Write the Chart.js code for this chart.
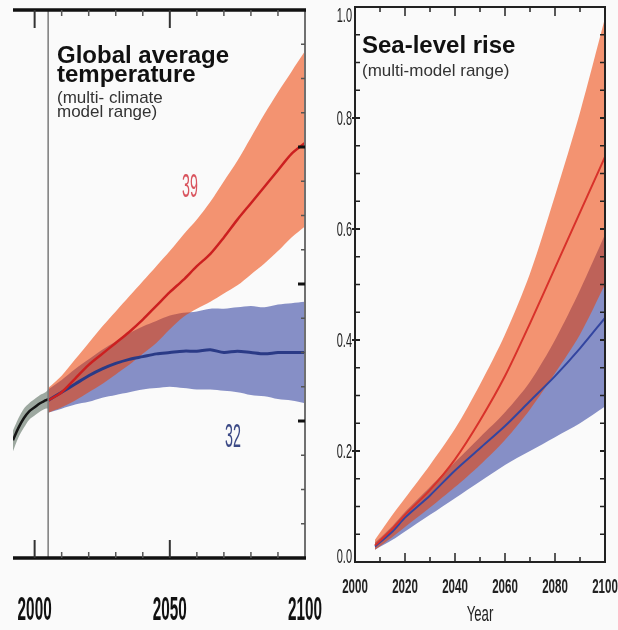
<!DOCTYPE html>
<html>
<head>
<meta charset="utf-8">
<script src="https://cdn.jsdelivr.net/npm/chart.js@4.4.1/dist/chart.umd.min.js"></script>
<style>
  html, body { margin: 0; padding: 0; background: #fafafa; }
  #wrap { position: relative; width: 618px; height: 630px; overflow: hidden; font-family: "Liberation Sans", Arial, sans-serif; }
  #temp-chart { position: absolute; left: 0; top: 0; }
  #sea-chart { position: absolute; left: 322px; top: 0; }
  .title { position: absolute; font-weight: bold; font-size: 24px; color: #111; white-space: nowrap; }
  .sub { position: absolute; font-size: 17px; color: #333; white-space: nowrap; }
  .count { position: absolute; font-size: 34px; line-height: 34px; transform: scaleX(0.42); transform-origin: left top; }
</style>
</head>
<body>
<div id="wrap">
  <canvas id="temp-chart" width="322" height="630"></canvas>
  <canvas id="sea-chart" width="296" height="630"></canvas>

  <div class="title" style="left:57px; top:45px; line-height:19px;">Global average<br>temperature</div>
  <div class="sub" style="left:57px; top:91px; line-height:14px;">(multi- climate<br>model range)</div>
  <div class="count" style="left:182px; top:168px; color:#d9545e;">39</div>
  <div class="count" style="left:225px; top:418px; color:#3c4a86;">32</div>

  <div class="title" style="left:362px; top:33px; line-height:24px;">Sea-level rise</div>
  <div class="sub" style="left:362px; top:62px; line-height:17px;">(multi-model range)</div>
</div>

<script>
// ---- global average temperature ----
const histYears = [1992, 1994, 1996, 1998, 2000, 2002, 2004, 2005];
const histMean  = [0.86, 0.95, 1.02, 1.07, 1.10, 1.13, 1.15, 1.16];
const histHigh  = [0.93, 1.02, 1.09, 1.13, 1.16, 1.19, 1.21, 1.23];
const histLow   = [0.78, 0.88, 0.95, 1.01, 1.04, 1.07, 1.09, 1.09];

const tempYears = [2005, 2010, 2015, 2020, 2025, 2030, 2035, 2040, 2045, 2050,
                   2055, 2060, 2065, 2070, 2075, 2080, 2085, 2090, 2095, 2100];
// "39" runs
const redMean = [1.15, 1.21, 1.31, 1.41, 1.49, 1.57, 1.65, 1.74, 1.84, 1.94,
                 2.03, 2.13, 2.22, 2.34, 2.47, 2.59, 2.71, 2.83, 2.95, 3.03];
const redHigh = [1.24, 1.33, 1.45, 1.57, 1.69, 1.80, 1.91, 2.02, 2.13, 2.24,
                 2.36, 2.47, 2.60, 2.75, 2.90, 3.07, 3.24, 3.40, 3.55, 3.70];
const redLow  = [1.06, 1.10, 1.15, 1.21, 1.27, 1.34, 1.41, 1.49, 1.57, 1.67,
                 1.76, 1.82, 1.87, 1.93, 1.99, 2.07, 2.15, 2.24, 2.34, 2.42];
// "32" runs
const blueMean = [1.15, 1.21, 1.27, 1.33, 1.38, 1.42, 1.45, 1.47, 1.49, 1.50,
                  1.51, 1.51, 1.52, 1.50, 1.51, 1.50, 1.49, 1.50, 1.50, 1.50];
const blueHigh = [1.23, 1.30, 1.38, 1.45, 1.52, 1.58, 1.64, 1.69, 1.73, 1.77,
                  1.79, 1.80, 1.82, 1.82, 1.83, 1.84, 1.83, 1.85, 1.86, 1.87];
const blueLow  = [1.06, 1.09, 1.12, 1.14, 1.17, 1.19, 1.21, 1.23, 1.24, 1.25,
                  1.24, 1.23, 1.23, 1.22, 1.21, 1.19, 1.18, 1.16, 1.15, 1.13];

const tempXTicks = [2000, 2010, 2020, 2030, 2040, 2050, 2060, 2070, 2080, 2090];
const tempXLabels = ['2000', '2050', '2100'];
const tempYTicks = [0.25, 0.5, 0.75, 1, 1.25, 1.5, 1.75, 2, 2.25, 2.5, 2.75, 3, 3.25, 3.5, 3.75];

// ---- sea-level rise (m) ----
const seaYears = [2008, 2015, 2020, 2030, 2040, 2050, 2060, 2070, 2080, 2090, 2100];
const seaRedHigh  = [0.040, 0.085, 0.115, 0.175, 0.240, 0.320, 0.410, 0.520, 0.660, 0.810, 0.980];
const seaRedMean  = [0.030, 0.060, 0.085, 0.130, 0.185, 0.255, 0.335, 0.430, 0.530, 0.630, 0.730];
const seaRedLow   = [0.022, 0.045, 0.063, 0.098, 0.135, 0.175, 0.220, 0.275, 0.340, 0.410, 0.500];
const seaBlueHigh = [0.035, 0.065, 0.090, 0.135, 0.180, 0.225, 0.270, 0.325, 0.400, 0.490, 0.590];
const seaBlueMean = [0.028, 0.055, 0.080, 0.120, 0.165, 0.205, 0.245, 0.290, 0.335, 0.385, 0.440];
const seaBlueLow  = [0.022, 0.040, 0.055, 0.085, 0.115, 0.145, 0.175, 0.200, 0.225, 0.250, 0.280];

const seaXTicks = [2000, 2010, 2020, 2030, 2040, 2050, 2060, 2070, 2080, 2090, 2100];
const seaXLabels = ['2000', '2020', '2040', '2060', '2080', '2100'];
const seaYTicks = [0.05, 0.1, 0.15, 0.2, 0.25, 0.3, 0.35, 0.4, 0.45, 0.5,
                   0.55, 0.6, 0.65, 0.7, 0.75, 0.8, 0.85, 0.9, 0.95];
const seaYLabels = ['0.0', '0.2', '0.4', '0.6', '0.8', '1.0'];

const ORANGE = 'rgba(237, 62, 0, 0.55)';
const BLUE = 'rgb(134, 143, 198)';

function pairs(xs, ys) {
  return xs.map((x, i) => ({ x: x, y: ys[i] }));
}

function band(xs, ys, color, fillTo, order) {
  return {
    data: pairs(xs, ys), borderWidth: 0, pointRadius: 0,
    backgroundColor: color, fill: fillTo === null ? false : fillTo, order: order
  };
}

function curve(xs, ys, color, width, order) {
  return {
    data: pairs(xs, ys), borderColor: color, borderWidth: width,
    pointRadius: 0, fill: false, order: order
  };
}

function line(ctx, x1, y1, x2, y2) {
  ctx.beginPath();
  ctx.moveTo(x1, y1);
  ctx.lineTo(x2, y2);
  ctx.stroke();
}

// narrow, tall axis numbers
function squeezedText(ctx, text, x, y, sx, align) {
  ctx.save();
  ctx.translate(x, y);
  ctx.scale(sx, 1);
  ctx.textAlign = align;
  ctx.textBaseline = 'alphabetic';
  ctx.fillText(text, 0, 0);
  ctx.restore();
}

const tempFrame = {
  id: 'tempFrame',
  afterDraw(chart) {
    const ctx = chart.ctx;
    const xs = chart.scales.x, ys = chart.scales.y;
    const L = xs.left, R = xs.right, T = ys.top, B = ys.bottom;
    ctx.save();

    // start of projections
    ctx.strokeStyle = '#7a7a7a';
    ctx.lineWidth = 1.5;
    const x05 = xs.getPixelForValue(2005);
    line(ctx, x05, T, x05, B);

    // right axis with inward ticks
    ctx.strokeStyle = '#707070';
    ctx.lineWidth = 2;
    line(ctx, R, T, R, B);
    tempYTicks.forEach(v => {
      const py = ys.getPixelForValue(v);
      const major = Number.isInteger(v);
      ctx.strokeStyle = major ? '#111' : '#555';
      ctx.lineWidth = major ? 3 : 1.5;
      line(ctx, R, py, R - (major ? 7 : 4), py);
    });

    // heavy top and bottom rules
    ctx.strokeStyle = '#111';
    ctx.lineWidth = 3.5;
    line(ctx, L, T, R + 1, T);
    line(ctx, L, B, R + 1, B);

    tempXTicks.forEach(v => {
      const px = xs.getPixelForValue(v);
      const major = v % 50 === 0;
      const len = major ? 18 : 6;
      ctx.lineWidth = major ? 2 : 1.5;
      ctx.strokeStyle = major ? '#333' : '#555';
      line(ctx, px, T, px, T + len);
      line(ctx, px, B, px, B - len);
    });

    ctx.fillStyle = '#111';
    ctx.font = 'bold 34px "Liberation Sans", Arial, sans-serif';
    tempXLabels.forEach(t => {
      squeezedText(ctx, t, xs.getPixelForValue(Number(t)), 620, 0.45, 'center');
    });
    ctx.restore();
  }
};

const seaFrame = {
  id: 'seaFrame',
  afterDraw(chart) {
    const ctx = chart.ctx;
    const xs = chart.scales.x, ys = chart.scales.y;
    const L = xs.left, R = xs.right, T = ys.top, B = ys.bottom;
    ctx.save();
    ctx.strokeStyle = '#222';
    ctx.lineWidth = 2;
    ctx.strokeRect(L, T, R - L, B - T);

    ctx.lineWidth = 1.5;
    seaXTicks.forEach(v => {
      const px = xs.getPixelForValue(v);
      const len = v % 20 === 0 ? 9 : 5;
      line(ctx, px, B, px, B - len);
      line(ctx, px, T, px, T + len);
    });
    seaYTicks.forEach(v => {
      const py = ys.getPixelForValue(v);
      const major = Math.abs(v * 5 - Math.round(v * 5)) < 1e-6;
      ctx.lineWidth = major ? 2 : 1.5;
      line(ctx, L - (major ? 3 : 0), py, L + 5, py);
      line(ctx, R, py, R - 5, py);
    });

    ctx.fillStyle = '#222';
    ctx.font = 'bold 21px "Liberation Sans", Arial, sans-serif';
    seaXLabels.forEach(t => {
      squeezedText(ctx, t, xs.getPixelForValue(Number(t)), 593, 0.55, 'center');
    });
    ctx.font = '20px "Liberation Sans", Arial, sans-serif';
    seaYLabels.forEach(t => {
      const py = Math.min(Math.max(ys.getPixelForValue(Number(t)), 15), 556);
      squeezedText(ctx, t, L - 3, py + 7, 0.55, 'right');
    });
    ctx.font = '22px "Liberation Sans", Arial, sans-serif';
    squeezedText(ctx, 'Year', (L + R) / 2, 621, 0.6, 'center');
    ctx.restore();
  }
};

const baseOptions = {
  responsive: false,
  animation: false,
  events: [],
  plugins: { legend: { display: false }, tooltip: { enabled: false } },
  elements: { line: { tension: 0.3 } }
};

new Chart(document.getElementById('temp-chart'), {
  type: 'line',
  data: {
    datasets: [
      curve(histYears, histMean, '#161616', 2.5, 0),
      curve(tempYears, redMean, '#cc2020', 2.5, 1),
      curve(tempYears, blueMean, '#2a3a86', 3, 2),
      band(histYears, histHigh, 'rgba(80, 100, 85, 0.55)', 4, 8),
      band(histYears, histLow, 'transparent', null, 8),
      band(tempYears, redHigh, ORANGE, 6, 9),
      band(tempYears, redLow, 'transparent', null, 9),
      band(tempYears, blueHigh, BLUE, 8, 10),
      band(tempYears, blueLow, 'transparent', null, 10)
    ]
  },
  options: Object.assign({}, baseOptions, {
    layout: { padding: { left: 13, right: 17, top: 10, bottom: 72 } },
    scales: {
      x: { type: 'linear', min: 1992, max: 2100, display: false },
      y: { type: 'linear', min: 0, max: 4, display: false }
    }
  }),
  plugins: [tempFrame]
});

new Chart(document.getElementById('sea-chart'), {
  type: 'line',
  data: {
    datasets: [
      curve(seaYears, seaRedMean, '#d8322a', 2, 0),
      curve(seaYears, seaBlueMean, '#3345a0', 2, 1),
      band(seaYears, seaRedHigh, ORANGE, 3, 8),
      band(seaYears, seaRedLow, 'transparent', null, 8),
      band(seaYears, seaBlueHigh, BLUE, 5, 9),
      band(seaYears, seaBlueLow, 'transparent', null, 9)
    ]
  },
  options: Object.assign({}, baseOptions, {
    layout: { padding: { left: 33, right: 13, top: 7, bottom: 68 } },
    scales: {
      x: { type: 'linear', min: 2000, max: 2100, display: false },
      y: { type: 'linear', min: 0, max: 1, display: false }
    }
  }),
  plugins: [seaFrame]
});
</script>
</body>
</html>
